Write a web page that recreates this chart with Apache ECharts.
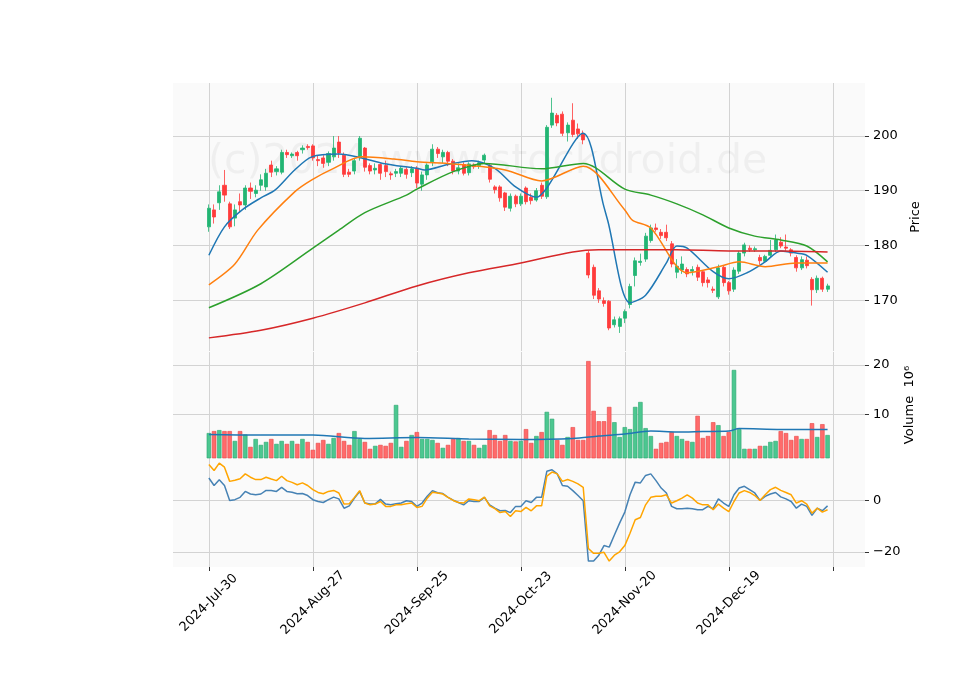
<!DOCTYPE html>
<html>
<head>
<meta charset="utf-8">
<script src="https://cdn.jsdelivr.net/npm/echarts@6/dist/echarts.min.js"></script>
<style>
  html, body { margin: 0; padding: 0; background: #fff; }
  #chart { width: 960px; height: 690px; }
</style>
</head>
<body>
<div id="chart"></div>
<script>
// ticks every 20 trading days
var tickIdx = [0, 20, 40, 60, 80, 100, 120];
var tickLabels = ['2024-Jul-30', '2024-Aug-27', '2024-Sep-25', '2024-Oct-23', '2024-Nov-20', '2024-Dec-19', ''];

// open, close, low, high
var ohlc = [
  [183.4,186.8,182.5,187.5],[186.5,185.2,184,187.5],[187.8,189.8,186.5,191],[191,189.2,188,193.8],
  [187.6,183.4,183,188],[185,186.5,183.5,187.5],[188,187.4,186,189.5],[187.4,190.5,186.5,191],
  [190.5,189.9,188.5,191.5],[189.5,190.1,188.8,191],[191,192,190,193],[190.7,193.2,190,194],
  [194.7,193.4,192.5,195.5],[193.5,194,192.8,194.5],[193.4,197,193,197.5],[197,196.6,196,197.5],
  [196.4,196.7,196,197],[197,196.4,195.5,197.3],[197.5,197.8,196.8,198.3],[198.1,197.9,197.5,198.5],
  [198.2,196,195.5,198.5],[195.7,195.5,194.5,196.5],[196,195,194.2,196.5],[195.2,196.8,194.5,197.2],
  [196.2,197.8,195.5,200],[198.9,196.9,196,200],[196.5,193,192.5,197],[193.4,193,192.5,194],
  [193.6,195.5,193,196],[196,199.6,195.5,200],[197.8,194.3,193.5,198],[194.6,193.6,193,195],
  [193.8,194.1,193,195],[194.8,193.2,192,195],[194.6,193.5,192.5,195.5],[193.1,192.9,192,193.5],
  [193.2,193.5,192.5,194],[193.2,194.1,192.5,194.5],[193.9,193,192.2,194.3],[193.3,194,192.5,194.5],
  [194.1,191.4,190.5,194.5],[191.2,192.9,190,193.5],[192.9,194.7,192,195],[195.3,197.6,194.5,198.5],
  [197.6,196.8,196,198],[196.2,197,195,197.5],[197,195.4,194.5,197.3],[195.4,193.6,193,195.8],
  [193.6,194.2,193,195],[194.8,193.2,192.8,195.2],[193.3,194.9,192.8,195.2],[194.7,194.4,194,195],
  [194.6,195.1,194,195.5],[195.6,196.5,195,196.8],[194.6,192.1,191.5,195],[190.7,190.2,189.5,191],
  [190.7,188.7,188,191],[189.6,187,186.3,189.8],[186.8,189,186.2,189.5],[189,187.6,187,189.3],
  [187.6,189,187.2,189.5],[190.5,188,187.5,190.8],[188.8,188.2,187.5,189.5],[188.3,190,188,190.5],
  [191,189,188.5,191.5],[188.9,201.6,188.5,202],[202,204.2,201.5,207],[203.8,202.4,201.8,204.2],
  [204,200.5,200,204.5],[200.6,202,199,202.5],[202.9,200.3,199.8,206],[201.3,200.4,199.5,202.3],
  [200.5,199.3,198.5,201],[178.6,174.6,174,179],[176,170.9,170.2,176.5],[171.7,170.2,169.5,172.2],
  [169.9,169.4,168.8,170.5],[169.8,164.9,164.5,170],[165.5,166.4,165,167],[165.2,166.6,164,167],
  [166.7,167.9,165.8,168.3],[169.2,172.5,168.5,173],[174.5,177.2,172.5,177.8],[176.9,177.1,176.3,178.5],
  [177.5,181.7,177,182.3],[180.9,183.2,180.5,183.8],[183.2,182.9,182.5,184],[182.4,181.8,181.2,183],
  [182.4,181.4,180.8,183.8],[180.3,176.6,176,180.8],[175.1,176.2,174,177.5],[175.5,176.6,174.8,178],
  [175.6,174.8,174.2,176],[175.3,175.6,174.5,176.2],[176,174.2,173.5,176.5],[175.2,173.2,172.5,175.5],
  [173.7,173.2,172.3,174.2],[172,171.8,171.3,172.5],[170.6,175.9,170.2,176.5],[176,173.2,172.5,176.3],
  [173.2,171.7,171,173.5],[172,175.5,171.5,176],[175.3,178.6,174.8,179],[178.6,180.1,178,180.5],
  [179.5,179.2,178.8,180],[179.2,179.4,178.8,179.8],[177.8,177.2,176.5,178.3],[177.1,178,176.8,178.3],
  [178.2,179.1,177.8,181],[179.2,181,178.8,182],[180.6,179.9,179.5,181.5],[179.7,179.5,179,182],
  [179.2,178.6,178,179.5],[177.8,175.9,175.2,178.2],[175.9,177.4,175.5,178],[177.3,176.3,175.8,178],
  [173.8,171.9,169,174.2],[171.9,174,171.3,174.5],[174,172,171.5,174.3],[172,172.6,171.5,173]
];

// volume, millions
var volume = [
  6.2,6.6,6.8,6.6,6.6,4.6,6.6,5.9,3.4,5.0,3.8,4.4,5.0,4.0,4.6,4.0,4.6,4.0,5.0,4.4,
  2.8,4.2,4.8,4.0,5.2,6.2,4.6,3.8,6.6,5.0,4.4,3.0,3.6,3.8,3.6,4.2,11.9,3.4,4.6,5.8,
  6.4,5.0,5.0,4.8,4.2,3.2,3.8,5.0,5.2,4.6,4.6,3.8,3.2,3.8,6.8,5.8,4.6,5.8,4.6,4.5,
  4.6,7.0,4.2,5.6,6.4,10.5,9.1,4.8,3.8,5.4,7.4,4.8,4.8,20.8,10.7,8.6,8.6,11.5,8.4,5.4,
  7.4,7.0,11.5,12.5,7.2,5.6,3.0,4.2,4.4,6.4,5.6,5.0,4.6,4.4,9.7,5.2,5.6,8.4,7.8,5.6,
  6.4,19.0,7.0,3.0,3.0,3.0,3.6,3.6,4.4,4.6,6.6,6.2,4.8,5.6,5.0,5.0,8.2,5.4,8.0,5.8
];

// moving averages: [day, value]
var maFast = [[0,178.2],[3,183.4],[6.4,186.5],[10,188.7],[12.7,190.1],[16.5,193.8],[19.8,196.2],[25,196.7],[29.4,196],[33.5,195],[40,194.1],[41.5,193.8],[46,194.8],[50.6,195.5],[55,194.1],[59,190.7],[63,188.8],[65,190.5],[72,200.5],[76,187],[76.7,184.6],[81,169.5],[84,170.9],[88,176.8],[90,179.9],[92,179.5],[97,175.2],[100,173.9],[103.5,175],[107,177],[110,179],[113,178.6],[115,178.2],[119,175.1]];
var maMid = [[0,172.8],[5,176.6],[9.4,182.8],[16.5,189.8],[19.8,192],[24,194.1],[29.4,196.2],[35.6,195.8],[40,195.3],[47,194.9],[57,193.8],[64,191.8],[72,194.5],[80,186.5],[81.5,184.6],[85,183.2],[92,175],[98,176.1],[102,177],[107,176.1],[113,176.8],[119,176.8]];
var maSlow = [[0,168.6],[10,173],[20,179.5],[25,182.8],[30,186],[38,189.2],[40,190.3],[47,193.5],[53,195],[64,194],[72,195],[80,190.3],[85,189.2],[90,187.6],[95,185.6],[100,183.2],[105,181.7],[110,181],[115,179.9],[119,177]];
var maLong = [[0,163.1],[10,164.5],[20,166.7],[30,169.5],[40,172.6],[50,175],[60,176.8],[70,178.8],[75,179.2],[80,179.2],[90,179.2],[100,179],[110,179],[119,178.8]];
var volMa = [[0,5.9],[10,5.8],[20,5.8],[30,5.1],[40,5.3],[50,5.0],[60,4.9],[70,5.1],[75,5.6],[80,6.0],[85,6.6],[90,6.4],[95,6.5],[100,6.6],[102,7.1],[110,6.9],[119,6.9]];

// lower panel
var macd = [
  8.7,5.8,8.0,5.8,0,0.3,1.2,3.5,2.5,2.2,2.5,3.9,3.9,3.5,5.1,3.5,3.2,2.6,2.7,1.9,
  0.3,-0.4,-0.8,0.3,1.3,0.6,-3.0,-2.1,0.9,3.5,-1.0,-1.4,-1.3,0.4,-1.4,-1.7,-1.3,-1.0,-0.1,-0.4,
  -2.3,-1.0,1.6,3.8,3.0,2.7,1.2,0.1,-0.8,-1.7,-0.1,-0.4,-0.4,1.2,-1.7,-3.0,-4.0,-3.9,-4.7,-2.3,
  -2.3,-0.1,-0.8,1.2,1.2,11.3,11.9,10.3,5.8,5.5,3.8,1.9,-0.1,-23.5,-23.5,-21.2,-17.5,-18.1,-13.4,-8.8,
  -4.5,2.2,7.1,6.8,9.7,10.3,7.7,4.8,2.9,-2.3,-3.2,-3.2,-3.0,-3.2,-3.6,-3.6,-2.3,-3.2,0.6,-1.0,
  -2.3,2.2,4.8,5.5,4.2,2.9,0,1.6,2.5,3.1,1.4,0.6,-0.4,-3.0,-1.4,-2.3,-5.8,-3.0,-4.0,-2.1
];
var signal = [
  13.9,11.6,14.5,12.9,7.4,7.8,8.4,10.3,9.0,8.1,8.1,9.0,8.3,7.7,9.4,7.7,7.0,6.1,6.8,5.8,
  4.2,3.1,2.6,3.5,3.9,2.9,-1.4,-1.3,1.2,3.8,-1.0,-1.7,-1.4,-0.4,-2.3,-2.3,-1.7,-1.7,-1.3,-1.0,
  -2.7,-2.3,0.9,3.2,2.9,2.5,1.2,0,-0.8,-1.0,0.6,0.3,-0.1,1.3,-2.1,-3.2,-4.7,-4.3,-6.2,-4.0,
  -4.3,-2.7,-4.0,-2.1,-2.1,9.4,11.0,10.3,7.4,8.1,7.4,6.4,5.1,-18.6,-20.5,-20.5,-20.1,-23.5,-21.2,-19.9,
  -17.5,-12.7,-7.5,-6.6,-1.7,1.2,1.6,1.6,2.2,-1.0,-0.1,0.9,2.2,0.9,-1.0,-1.7,-1.7,-3.6,-1.4,-3.0,
  -4.3,-0.4,2.9,3.8,3.1,1.9,0,2.2,4.2,5.1,3.9,3.1,2.2,-1.0,-0.1,-1.4,-4.9,-3.0,-4.5,-3.6
];

var UP = '#22b573', DOWN = '#ff3b3b';
var candleData = ohlc.map(function (d, i) { return [i, d[0], d[1], d[2], d[3]]; });
var volData = volume.map(function (v, i) {
  var up = ohlc[i][1] >= ohlc[i][0];
  return { value: [i, v], itemStyle: { color: up ? '#4cc790' : '#ff6b6b', borderColor: up ? '#2aa66e' : '#e84545', borderWidth: 0.6 } };
});
var idx = function (arr) { return arr.map(function (v, i) { return [i, v]; }); };

var font = 'DejaVu Sans';
var xMin = -6.9, xMax = 126.2;
function xAxis(gi, showLabels) {
  return {
    type: 'value', gridIndex: gi, min: xMin, max: xMax,
    axisLine: { show: false, onZero: false },
    axisTick: { show: showLabels, customValues: tickIdx, length: 4, lineStyle: { color: '#333' } },
    axisLabel: showLabels ? {
      show: true, customValues: tickIdx, rotate: 45, color: '#000', fontFamily: font, fontSize: 13,
      align: 'center', verticalAlign: 'middle', margin: 36,
      formatter: function (v) { return tickLabels[tickIdx.indexOf(v)] || ''; }
    } : { show: false },
    splitLine: { show: true, lineStyle: { color: '#d3d3d3' } }
  };
}
function yAxis(gi, min, max, ticks, name, gap) {
  return {
    type: 'value', gridIndex: gi, position: 'right', min: min, max: max,
    name: name, nameLocation: 'middle', nameRotate: 90, nameGap: gap,
    nameTextStyle: { color: '#000', fontFamily: font, fontSize: 13 },
    axisLine: { show: false, onZero: false },
    axisTick: { show: true, customValues: ticks, length: 4, lineStyle: { color: '#333' } },
    axisLabel: { customValues: ticks, color: '#000', fontFamily: font, fontSize: 13, margin: 8,
      formatter: function (v) { return v < 0 ? '\u2212' + (-v) : String(v); } },
    splitLine: { show: true, lineStyle: { color: '#d3d3d3' } }
  };
}
function line(x, y, data, color, w, smooth) {
  return { type: 'line', xAxisIndex: x, yAxisIndex: y, data: data, showSymbol: false, smooth: smooth || false,
    lineStyle: { color: color, width: w || 1.5 }, z: 5, silent: true };
}

var chart = echarts.init(document.getElementById('chart'), null, { renderer: 'canvas' });
chart.setOption({
  backgroundColor: '#fff',
  animation: false,
  graphic: [
    { type: 'rect', shape: { x: 173, y: 83, width: 692, height: 484 }, style: { fill: '#fafafa' }, z: -10, silent: true },
    { type: 'text', left: 208, top: 142, z: 1, silent: true,
      style: { text: '(c)2024 www.stockdroid.de', fill: 'rgba(0,0,0,0.045)', font: '41px "DejaVu Sans"' } }
  ],
  grid: [
    { left: 173, right: 95, top: 83, height: 268 },
    { left: 173, right: 95, top: 352, height: 106 },
    { left: 173, right: 95, top: 458, height: 109 }
  ],
  xAxis: [xAxis(0, false), xAxis(1, false), xAxis(2, true)],
  yAxis: [
    yAxis(0, 160.7, 209.7, [170, 180, 190, 200], 'Price', 38),
    yAxis(1, 1.14, 22.64, [10, 20], 'Volume  10\u2076', 38),
    yAxis(2, -25.8, 16.46, [-20, 0], '', 30)
  ],
  series: [
    { type: 'candlestick', xAxisIndex: 0, yAxisIndex: 0, data: candleData, barWidth: 3.6,
      itemStyle: { color: UP, color0: DOWN, borderColor: UP, borderColor0: DOWN, borderWidth: 0.8 }, z: 3 },
    line(0, 0, maFast, '#1f77b4', 1.5, 0.3),
    line(0, 0, maMid, '#ff7f0e', 1.5, 0.3),
    line(0, 0, maSlow, '#2ca02c', 1.5, 0.3),
    line(0, 0, maLong, '#d62728', 1.5, 0.3),
    { type: 'bar', xAxisIndex: 1, yAxisIndex: 1, data: volData, barWidth: 4.4, z: 3 },
    line(1, 1, volMa, '#1f77b4', 1.5, 0.3),
    line(2, 2, idx(macd), '#4682b4'),
    line(2, 2, idx(signal), '#ffa500')
  ]
});
</script>
</body>
</html>
